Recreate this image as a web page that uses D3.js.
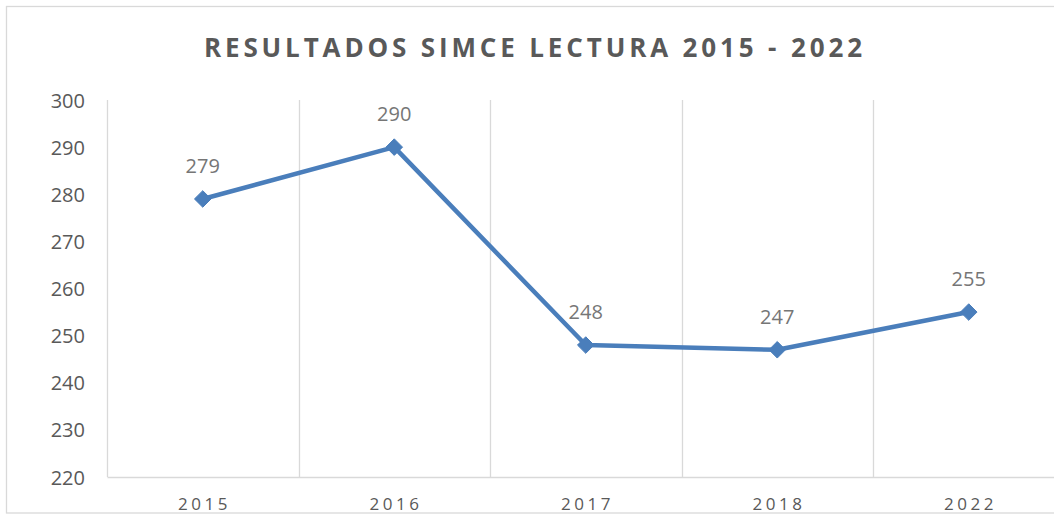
<!DOCTYPE html>
<html><head><meta charset="utf-8">
<script src="https://cdn.jsdelivr.net/npm/d3@7"></script>
<style>html,body{margin:0;padding:0;background:#fff;} svg{display:block;}</style>
</head><body>
<svg id="chart" width="1054" height="515"></svg>
<script>
const categories = ["2015", "2016", "2017", "2018", "2022"];
const values = [279, 290, 248, 247, 255];
const yTicks = [220, 230, 240, 250, 260, 270, 280, 290, 300];
const title = "RESULTADOS SIMCE LECTURA 2015 - 2022";

(function () {
const svg = d3.select("#chart");
const font = "'Open Sans', 'DejaVu Sans', sans-serif";

// outer border
svg.append("rect").attr("x", 6.5).attr("y", 6.5).attr("width", 1060).attr("height", 506.5)
  .attr("fill", "#fff").attr("stroke", "#d9d9d9").attr("stroke-width", 1.3);

const pLeft = 107, pRight = 1064.5, pTop = 100, pBottom = 477;
const x = d3.scaleBand().domain(categories).range([pLeft, pRight]).padding(0);
const y = d3.scaleLinear().domain([220, 300]).range([pBottom, pTop]);

// title
svg.append("text").attr("x", 533).attr("y", 57).attr("text-anchor", "middle")
  .attr("font-family", font).attr("font-weight", "bold").attr("font-size", 26)
  .attr("fill", "#595959").attr("textLength", 658).attr("lengthAdjust", "spacing")
  .text(title);

// vertical gridlines at band boundaries
const bounds = categories.map(c => x(c)).concat([x(categories[categories.length-1]) + x.bandwidth()]);
svg.append("g").selectAll("line").data(bounds).join("line")
  .attr("x1", d => Math.round(d) + 0.5).attr("x2", d => Math.round(d) + 0.5)
  .attr("y1", pTop).attr("y2", pBottom)
  .attr("stroke", "#d9d9d9").attr("stroke-width", 1.3);

// y axis labels
const yAxis = d3.axisLeft(y).tickValues(yTicks).tickSize(0).tickPadding(0);
const gy = svg.append("g").attr("transform", `translate(85,0)`).call(yAxis);
gy.select(".domain").remove();
gy.selectAll("text").attr("font-family", font).attr("font-size", 20).attr("fill", "#595959").attr("dy", "0.35em");

// x axis
const xAxis = d3.axisBottom(x).tickSize(0).tickPadding(0);
const gx = svg.append("g").attr("transform", `translate(0,${pBottom})`).call(xAxis);
gx.select(".domain").attr("stroke", "#d9d9d9").attr("stroke-width", 1.5);
gx.selectAll("text").attr("font-family", font).attr("font-size", 17).attr("fill", "#595959")
  .attr("dy", 0).attr("y", 33).attr("letter-spacing", "3.5px")
  .attr("dx", "1.75px");

// line
const pts = categories.map((c, i) => ({c, v: values[i]}));
const line = d3.line().x(d => x(d.c) + x.bandwidth()/2).y(d => y(d.v));
svg.append("path").datum(pts).attr("d", line).attr("fill", "none")
  .attr("stroke", "#4a7ebb").attr("stroke-width", 4.5).attr("stroke-linejoin", "round");

// markers
const sym = d3.symbol().type(d3.symbolDiamond2).size(175);
svg.append("g").selectAll("path").data(pts).join("path")
  .attr("d", sym)
  .attr("transform", d => `translate(${x(d.c) + x.bandwidth()/2},${y(d.v)})`)
  .attr("fill", "#4a7ebb").attr("stroke", "#4a7ebb").attr("stroke-width", 1);

// data labels
svg.append("g").selectAll("text").data(pts).join("text")
  .attr("x", d => x(d.c) + x.bandwidth()/2).attr("y", d => y(d.v) - 26)
  .attr("text-anchor", "middle").attr("font-family", font).attr("font-size", 20)
  .attr("fill", "#767676").text(d => d.v);
})();
</script>
</body></html>
